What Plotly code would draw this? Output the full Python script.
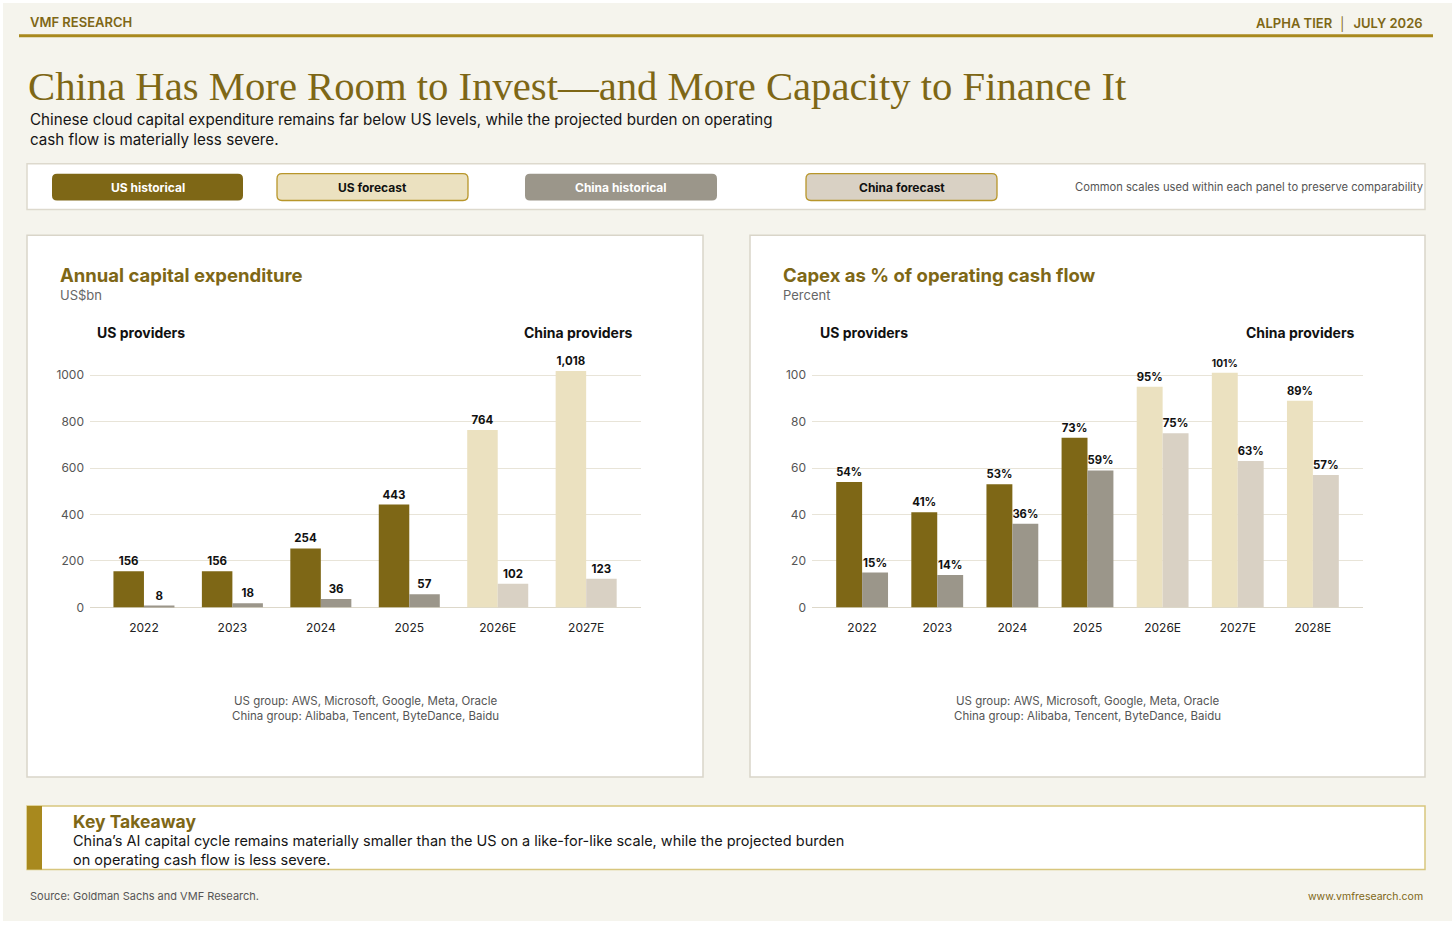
import plotly.graph_objects as go

W, H = 1456, 931

# ---------------- data ----------------
capex_years = ["2022", "2023", "2024", "2025", "2026E", "2027E"]
us_capex = [156, 156, 254, 443, 764, 1018]
china_capex = [8, 18, 36, 57, 102, 123]

ocf_years = ["2022", "2023", "2024", "2025", "2026E", "2027E", "2028E"]
us_ocf = [54, 41, 53, 73, 95, 101, 89]
china_ocf = [15, 14, 36, 59, 75, 63, 57]

capex_ticks = [0, 200, 400, 600, 800, 1000]
ocf_ticks = [0, 20, 40, 60, 80, 100]

legend_labels = ["US historical", "US forecast", "China historical", "China forecast"]

# ---------------- styles ----------------
GOLD_DARK = "#7e6716"
GOLD_LINE = "#a8891e"
US_HIST = "#7e6716"
US_FC = "#ebe1c0"
CN_HIST = "#9b968a"
CN_FC = "#d9d1c4"
BG = "#f5f4ed"
SANS = "Inter, Roboto, sans-serif"
SERIF = "Liberation Serif, DejaVu Serif, serif"


def fx(x):
    return x / W


def fy(y):
    return 1 - y / H


def colors(years, hist, fc):
    return [fc if y.endswith("E") else hist for y in years]


fig = go.Figure()

label_font = dict(family=SANS, size=11.5, color="#111")
fig.add_trace(go.Bar(x=capex_years, y=us_capex, marker_color=colors(capex_years, US_HIST, US_FC),
                     marker_line_width=0, texttemplate="<b>%{y:,}</b>", textposition="outside",
                     textfont=label_font, cliponaxis=False, xaxis="x", yaxis="y", showlegend=False))
fig.add_trace(go.Bar(x=capex_years, y=china_capex, marker_color=colors(capex_years, CN_HIST, CN_FC),
                     marker_line_width=0, texttemplate="<b>%{y:,}</b>", textposition="outside",
                     textfont=label_font, cliponaxis=False, xaxis="x", yaxis="y", showlegend=False))
fig.add_trace(go.Bar(x=ocf_years, y=us_ocf, marker_color=colors(ocf_years, US_HIST, US_FC),
                     marker_line_width=0, texttemplate="<b>%{y}%</b>", textposition="outside",
                     textfont=label_font, cliponaxis=False, xaxis="x2", yaxis="y2", showlegend=False))
fig.add_trace(go.Bar(x=ocf_years, y=china_ocf, marker_color=colors(ocf_years, CN_HIST, CN_FC),
                     marker_line_width=0, texttemplate="<b>%{y}%</b>", textposition="outside",
                     textfont=label_font, cliponaxis=False, xaxis="x2", yaxis="y2", showlegend=False))

shapes = []
annotations = []


def rect(x0, y0, x1, y1, fill, line=None, lw=1, layer="below"):
    shapes.append(dict(type="rect", xref="paper", yref="paper", x0=fx(x0), x1=fx(x1),
                       y0=fy(y1), y1=fy(y0), fillcolor=fill,
                       line=dict(color=line or fill, width=lw if line else 0), layer=layer))


def rrect(x0, y0, x1, y1, r, fill, line=None, lw=1):
    p = (f"M {fx(x0 + r)},{fy(y0)} L {fx(x1 - r)},{fy(y0)} Q {fx(x1)},{fy(y0)} {fx(x1)},{fy(y0 + r)} "
         f"L {fx(x1)},{fy(y1 - r)} Q {fx(x1)},{fy(y1)} {fx(x1 - r)},{fy(y1)} "
         f"L {fx(x0 + r)},{fy(y1)} Q {fx(x0)},{fy(y1)} {fx(x0)},{fy(y1 - r)} "
         f"L {fx(x0)},{fy(y0 + r)} Q {fx(x0)},{fy(y0)} {fx(x0 + r)},{fy(y0)} Z")
    shapes.append(dict(type="path", xref="paper", yref="paper", path=p, fillcolor=fill,
                       line=dict(color=line or fill, width=lw if line else 0), layer="below"))


def text(x, y, s, size, color="#111", weight="normal", family=SANS, xanchor="left", yanchor="middle", align="left"):
    annotations.append(dict(xref="paper", yref="paper", x=fx(x), y=fy(y), text=s,
                            showarrow=False, xanchor=xanchor, yanchor=yanchor, align=align,
                            font=dict(family=family, size=size, color=color, weight=weight)))


# background
rect(3, 3, 1452, 928, BG)

# header
text(28, 22, "VMF RESEARCH", 13, GOLD_DARK, weight=600)
text(1425, 24, "ALPHA TIER  │  JULY 2026", 13, GOLD_DARK, weight=600, xanchor="right")
rect(19, 34.5, 1433, 37.5, GOLD_LINE)

# title + subtitle
text(26, 87, "China Has More Room to Invest—and More Capacity to Finance It", 40.7, GOLD_DARK, family=SERIF)
text(28, 130.5, "Chinese cloud capital expenditure remains far below US levels, while the projected burden on operating"
     "<br>cash flow is materially less severe.", 15.2, "#151515")

# legend strip
rect(27, 165, 1425, 211, "white", "#ddd9cd", 1.5)
legend_boxes = [(52, 243), (277, 468), (525, 717), (806, 997)]
legend_fill = [US_HIST, US_FC, CN_HIST, CN_FC]
legend_border = [None, "#b8962a", None, "#b8962a"]
legend_text_col = ["white", "#111", "white", "#111"]
for (x0, x1), lab, f, b, tc in zip(legend_boxes, legend_labels, legend_fill, legend_border, legend_text_col):
    rrect(x0, 175, x1, 202, 5, f, b, 1.3)
    text((x0 + x1) / 2, 188.5, lab, 12, tc, weight="bold", xanchor="center")
text(1425, 188, "Common scales used within each panel to preserve comparability", 11.2, "#555", xanchor="right")

# panels
panels = [(27, 703, "Annual capital expenditure", "US$bn"), (750, 1425, "Capex as % of operating cash flow", "Percent")]
for x0, x1, t, u in panels:
    rect(x0, 237, x1, 783, "white", "#d9d5c9", 1.5)
    text(x0 + 31, 277, t, 18.5, GOLD_DARK, weight="bold")
    text(x0 + 31, 297, u, 13, "#666")
    text(x0 + 68, 335, "US providers", 14, "#111", weight="bold")
    text(x1 - 68, 335, "China providers", 14, "#111", weight="bold", xanchor="right")
    text((x0 + x1) / 2, 714, "US group: AWS, Microsoft, Google, Meta, Oracle<br>China group: Alibaba, Tencent, ByteDance, Baidu",
         11.5, "#555", xanchor="center", align="center")

# key takeaway
rect(27, 812, 1425, 876, "white", "#d8c67e", 1.5)
rect(27, 812, 42, 876, GOLD_LINE)
text(71, 827.5, "Key Takeaway", 17.5, GOLD_DARK, weight="bold")
text(71, 856.5, "China’s AI capital cycle remains materially smaller than the US on a like-for-like scale, while the projected burden"
     "<br>on operating cash flow is less severe.", 14.5, "#151515")

# footer
text(28, 903, "Source: Goldman Sachs and VMF Research.", 11, "#555")
text(1425, 903, "www.vmfresearch.com", 10.5, GOLD_DARK, xanchor="right")

# axes
common_y = dict(showgrid=True, gridcolor="#e8e4d8", gridwidth=1, zeroline=True, zerolinecolor="#ddd8ca",
                zerolinewidth=1.2, showline=False, ticks="", ticklabelstandoff=5,
                tickfont=dict(family=SANS, size=12, color="#555"),
                domain=[fy(612), fy(360)], fixedrange=True)
common_x = dict(showgrid=False, showline=False, ticks="", type="category", ticklabelstandoff=12,
                tickfont=dict(family=SANS, size=12, color="#222"), fixedrange=True)

fig.update_layout(
    width=W, height=H, margin=dict(l=0, r=0, t=0, b=0),
    paper_bgcolor="white", plot_bgcolor="rgba(0,0,0,0)",
    barmode="group", bargap=0.31, bargroupgap=0,
    font=dict(family=SANS),
    xaxis=dict(common_x, domain=[fx(90), fx(641)], range=[-0.61, 5.62], anchor="y"),
    yaxis=dict(common_y, range=[0, 1077], tickvals=capex_ticks, anchor="x"),
    xaxis2=dict(common_x, domain=[fx(812), fx(1363)], range=[-0.667, 6.667], anchor="y2"),
    yaxis2=dict(common_y, range=[0, 107.7], tickvals=ocf_ticks, anchor="x2"),
    shapes=shapes, annotations=annotations,
)

fig.write_html("out.html", config={"displayModeBar": False},
               post_script="document.body.style.margin='0';document.body.style.overflow='hidden';")
